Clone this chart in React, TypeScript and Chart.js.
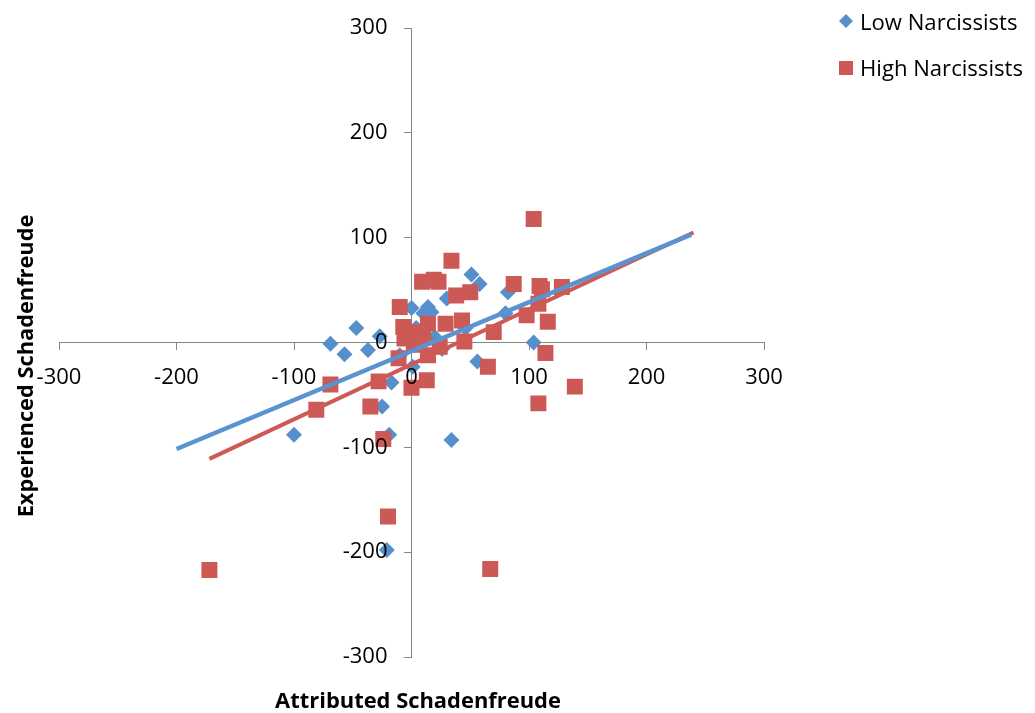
import { useEffect, useRef } from 'react';
import { Chart, registerables } from 'chart.js';

Chart.register(...registerables);

// ---- data ----
const seriesNames = ['Low Narcissists', 'High Narcissists'];
const xTitle = 'Attributed Schadenfreude';
const yTitle = 'Experienced Schadenfreude';
const axisMin = -300;
const axisMax = 300;
const axisStep = 100;

const lowX = [-100, -69, -57, -47, -37, -27, -25, -17, -19, -21, 0, 4, 14, 17, 10, 30, 51, 58, 26, 56, 34, 82, 80, 104, 0, -10, 1, 46, 20];
const lowY = [-88, -1, -11, 14, -7, 6, -61, -38, -88, -198, 33, 14, 34, 29, 28, 42, 65, 56, -6, -18, -93, 48, 28, 0, 2, -12, -23, 14, 5];

const highX = [-172, -81, -69, -35, -28, -24, -20, -11, -10, -7, -6, 0, 9, 19, 23, 13, 14, 29, 34, 38, 43, 45, 50, 65, 67, 70, 87, 98, 104, 108, 109, 111, 108, 114, 116, 128, 139, 2, 10, 14, 24, 5];
const highY = [-217, -64, -40, -61, -37, -92, -166, -15, 34, 15, 4, -43, 58, 60, 58, -36, 18, 18, 78, 45, 21, 1, 48, -23, -216, 10, 56, 26, 118, 37, 54, 51, -58, -10, 20, 53, -42, -2, 5, -12, -4, 10];

const lowTrendX = [-200, 238];
const lowTrendY = [-101.5, 103];
const highTrendX = [-172, 240];
const highTrendY = [-111, 105];

const BLUE = '#5590CC';
const RED = '#CC5955';
const BLUE_LINE = '#5A93D0';
const RED_LINE = '#CF5A55';
const FONT = '"Open Sans", sans-serif';
const TICK_LEN = 7;
const Y_LABEL_GAP = 17;

const pts = (xs: number[], ys: number[]) => xs.map((x, i) => ({ x, y: ys[i] }));

function fitSize(ctx: CanvasRenderingContext2D, text: string, weight: string, target: number) {
  ctx.font = `${weight} 20px ${FONT}`;
  const w = ctx.measureText(text).width;
  return (20 * target) / w;
}

// y labels of an axis positioned by value sit on the axis line: push them left of the tick marks
const shiftYLabels = {
  id: 'shiftYLabels',
  beforeDraw(chart: any) {
    const ys = chart.scales.y;
    const items = ys.getLabelItems(chart.chartArea);
    for (const it of items) {
      if (!it._shifted) {
        it.options.translation[0] -= TICK_LEN + Y_LABEL_GAP;
        it._shifted = true;
      }
    }
  },
};

const overlay = {
  id: 'overlay',
  afterDraw(chart: any) {
    const ctx: CanvasRenderingContext2D = chart.ctx;
    ctx.save();
    ctx.fillStyle = '#000';
    ctx.textBaseline = 'alphabetic';
    // x title
    let s = fitSize(ctx, xTitle, 'bold', 286);
    ctx.font = `bold ${s}px ${FONT}`;
    ctx.textAlign = 'center';
    ctx.fillText(xTitle, 418, 708);
    // y title
    s = fitSize(ctx, yTitle, 'bold', 303);
    ctx.font = `bold ${s}px ${FONT}`;
    ctx.save();
    ctx.translate(33, 366);
    ctx.rotate(-Math.PI / 2);
    ctx.fillText(yTitle, 0, 0);
    ctx.restore();
    // legend
    ctx.textAlign = 'left';
    const ls = fitSize(ctx, seriesNames[1], 'normal', 163);
    ctx.font = `${ls}px ${FONT}`;
    ctx.fillStyle = BLUE;
    ctx.beginPath();
    ctx.moveTo(846 - 7, 21);
    ctx.lineTo(846, 14);
    ctx.lineTo(846 + 7, 21);
    ctx.lineTo(846, 28);
    ctx.closePath();
    ctx.fill();
    ctx.fillStyle = RED;
    ctx.fillRect(839, 61, 14, 14);
    ctx.fillStyle = '#000';
    ctx.fillText(seriesNames[0], 860, 30);
    ctx.fillText(seriesNames[1], 860, 76);
    ctx.restore();
  },
};

function axisCfg(isX: boolean) {
  return {
    type: 'linear' as const,
    min: axisMin,
    max: axisMax,
    position: isX ? { y: 0 } : { x: 0 },
    ticks: {
      stepSize: axisStep,
      padding: 15,
      color: '#000',
      autoSkip: false,
      maxRotation: 0,
      z: 1,
      font: { family: FONT, size: 22 },
      callback: (v: any) => String(v),
    },
    grid: {
      drawOnChartArea: false,
      drawTicks: true,
      tickLength: TICK_LEN,
      color: '#868686',
      lineWidth: 1,
    },
    border: { color: '#868686', width: 1 },
    afterFit: (sc: any) => {
      if (isX) sc.height = 0;
      else sc.width = 0;
    },
  };
}

export default function App() {
  const ref = useRef<HTMLCanvasElement | null>(null);
  useEffect(() => {
    if (!ref.current) return;
    const chart = new Chart(ref.current, {
      type: 'scatter',
      data: {
        datasets: [
          {
            label: seriesNames[0] + ' trend',
            data: pts(lowTrendX, lowTrendY),
            showLine: true,
            borderColor: BLUE_LINE,
            borderWidth: 4.5,
            pointRadius: 0,
            order: 0,
          },
          {
            label: seriesNames[1] + ' trend',
            data: pts(highTrendX, highTrendY),
            showLine: true,
            borderColor: RED_LINE,
            borderWidth: 4,
            pointRadius: 0,
            order: 1,
          },
          {
            label: seriesNames[1],
            data: pts(highX, highY),
            pointStyle: 'rect',
            pointRadius: 11.3,
            backgroundColor: RED,
            borderWidth: 0,
            order: 2,
          },
          {
            label: seriesNames[0],
            data: pts(lowX, lowY),
            pointStyle: 'rectRot',
            pointRadius: 8,
            backgroundColor: BLUE,
            borderWidth: 0,
            order: 3,
          },
        ],
      },
      options: {
        animation: false,
        responsive: false,
        devicePixelRatio: 1,
        layout: { padding: { left: 59, right: 271, top: 27, bottom: 56 } },
        plugins: { legend: { display: false }, tooltip: { enabled: false } },
        scales: {
          x: axisCfg(true) as any,
          y: axisCfg(false) as any,
        },
      },
      plugins: [shiftYLabels, overlay],
    });
    return () => chart.destroy();
  }, []);
  return (
    <div style={{ position: 'absolute', left: 0, top: 0, width: 1035, height: 713, background: '#fff' }}>
      <canvas ref={ref} width={1035} height={713} style={{ display: 'block' }} />
    </div>
  );
}
